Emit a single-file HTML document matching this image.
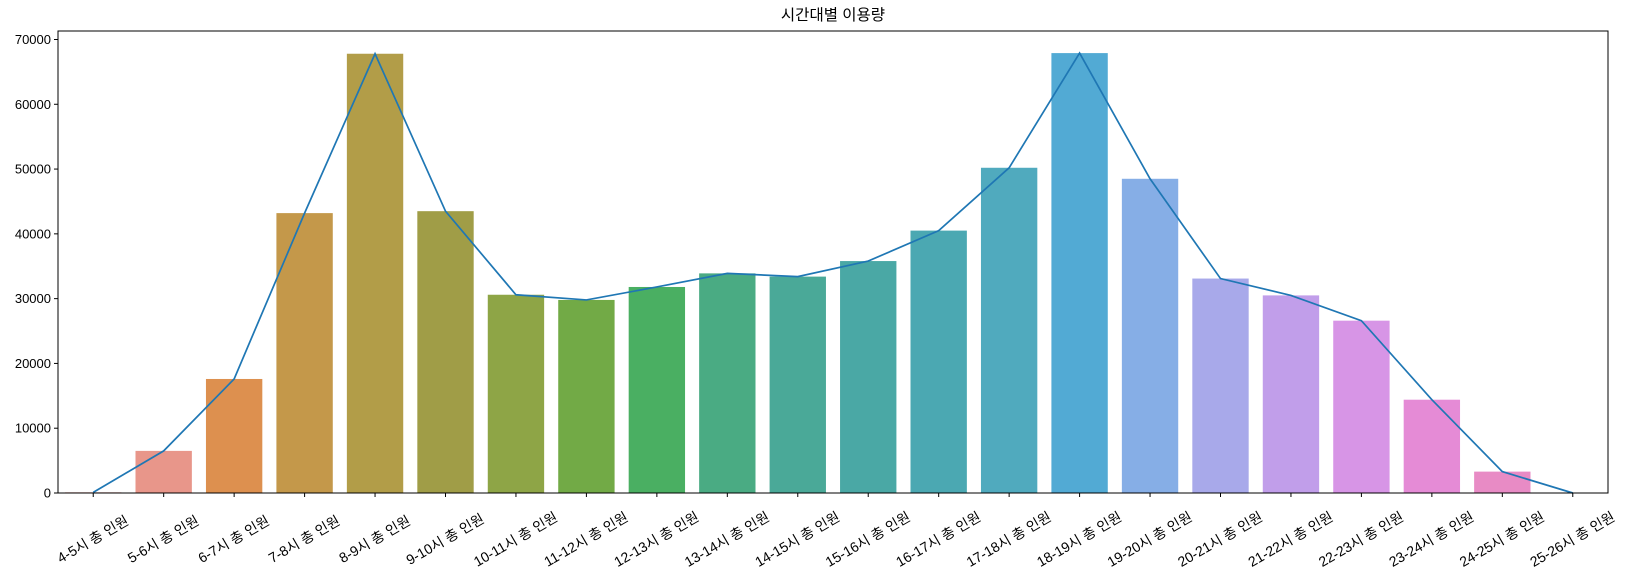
<!DOCTYPE html>
<html><head><meta charset="utf-8">
<style>
html,body{margin:0;padding:0;background:#fff;}
svg{display:block;font-family:"Liberation Sans","Noto Sans CJK KR",sans-serif;}
</style></head>
<body>
<svg id="chart" width="1629" height="575">
<text x="833" y="20" text-anchor="middle" font-size="15.5" fill="#000" font-family="Liberation Sans, Noto Sans CJK KR, sans-serif">시간대별 이용량</text>
<g id="bars"></g>
<g id="line"></g>
<g id="yaxis"></g>
<g id="xaxis"></g>
<rect x="58" y="31" width="1550" height="462" fill="none" stroke="#000" stroke-width="1"/>
</svg>
<script>
const categories = ["4-5시 총 인원","5-6시 총 인원","6-7시 총 인원","7-8시 총 인원","8-9시 총 인원","9-10시 총 인원","10-11시 총 인원","11-12시 총 인원","12-13시 총 인원","13-14시 총 인원","14-15시 총 인원","15-16시 총 인원","16-17시 총 인원","17-18시 총 인원","18-19시 총 인원","19-20시 총 인원","20-21시 총 인원","21-22시 총 인원","22-23시 총 인원","23-24시 총 인원","24-25시 총 인원","25-26시 총 인원"];
const values = [100,6500,17600,43200,67800,43500,30600,29800,31800,33900,33400,35800,40500,50200,67900,48500,33100,30500,26600,14400,3300,0];
const yTicks = [0,10000,20000,30000,40000,50000,60000,70000];
const colors = ["#e8827f","#e8968a","#dd904f","#c4984a","#b29d48","#a09d47","#8ea546","#72aa46","#4aaf62","#4aab83","#4aa998","#4aa8a5","#4ba8b2","#50aabe","#52aad4","#86aee6","#a8a9ea","#c19eea","#d795e6","#e58bd6","#e88bc5","#e88bb5"];

const L=58,R=1608,T=31,B=493,YMAX=71310;
const n=categories.length;
const step=(R-L)/n;
const xPos=i=>L+step*(i+0.5);
const yPos=v=>B-(v/YMAX)*(B-T);
const NS="http://www.w3.org/2000/svg";
function mk(tag,attrs,parent){const e=document.createElementNS(NS,tag);for(const k in attrs)e.setAttribute(k,attrs[k]);parent.appendChild(e);return e;}
const bars=document.getElementById('bars'),line=document.getElementById('line'),ya=document.getElementById('yaxis'),xa=document.getElementById('xaxis');
const bw=step*0.8;
values.forEach((v,i)=>{
  const r=mk('rect',{x:xPos(i)-bw/2,y:yPos(v),width:bw,height:B-yPos(v),fill:colors[i%colors.length]},bars);
  
  
});
const pl=mk('polyline',{points:values.map((v,i)=>xPos(i)+','+yPos(v)).join(' '),fill:'none',stroke:'#1f77b4','stroke-width':1.7},line);


yTicks.forEach(t=>{
  const y=yPos(t);
  const tk=mk('line',{x1:L-4,x2:L,y1:y,y2:y,stroke:'#000'},ya);
  
  
  const tx=mk('text',{x:L-7,y:y+4.5,'text-anchor':'end','font-size':13,fill:'#000'},ya);
  tx.textContent=t;
  
  
});
categories.forEach((c,i)=>{
  const x=xPos(i);
  const tk=mk('line',{x1:x,x2:x,y1:B,y2:B+4,stroke:'#000'},xa);
  
  
  const tx=mk('text',{x:0,y:4,'text-anchor':'middle','font-size':14,fill:'#000',transform:'translate('+x+',540) rotate(-30)'},xa);
  tx.textContent=c;
  
  
});
</script>
</body></html>
